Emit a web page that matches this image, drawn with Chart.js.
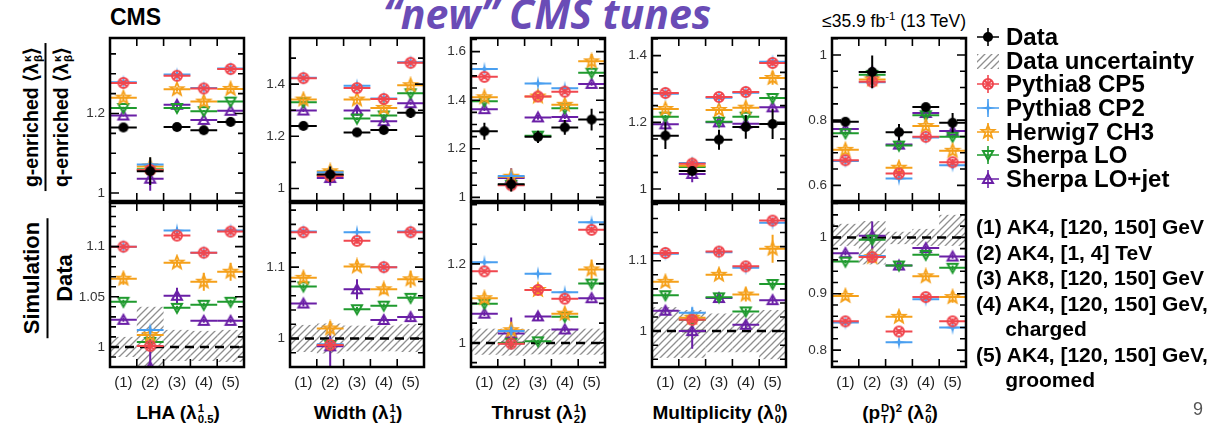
<!DOCTYPE html>
<html>
<head>
<meta charset="utf-8">
<script src="https://cdn.jsdelivr.net/npm/chart.js"></script>
<style>
  body { margin: 0; background: #fff; }
  #page { position: relative; width: 1230px; height: 438px; overflow: hidden;
          font-family: "Liberation Sans", Arial, sans-serif; color: #000; }
  canvas.panel { position: absolute; }
  .abs { position: absolute; white-space: nowrap; }
  .ss { display: inline-flex; flex-direction: column; font-size: 0.6em; line-height: 0.95;
        vertical-align: 0.62em; margin-left: 1px; text-align: left; }
  .ytitle { position: absolute; transform: translate(-50%, -50%) rotate(-90deg);
            font-weight: bold; font-size: 19.5px; text-align: center; white-space: nowrap; }
  .ytitle .num { border-bottom: 2.5px solid #000; padding: 0 4px 2px; }
  .ytitle .den { padding-top: 3px; }
  .xtitle { position: absolute; top: 402px; width: 200px; text-align: center;
            font-weight: bold; font-size: 19px; white-space: nowrap; }
  #legend { position: absolute; left: 975px; top: 25px; font-weight: bold; font-size: 24px; }
  #legend .row { display: flex; align-items: center; height: 23.7px; }
  #legend canvas { margin-right: 5px; }
  #cats { position: absolute; left: 976px; top: 214px; font-weight: bold; font-size: 21px;
          line-height: 25.5px; white-space: nowrap; }
</style>
</head>
<body>
<div id="page">
  <div class="abs" style="left:110px; top:4px; font-weight:bold; font-size:23px;">CMS</div>
  <div class="abs" style="left:383px; top:-15px; font: italic bold 41px 'Open Sans', sans-serif; color:#6a4cb6;">“new” CMS tunes</div>
  <div class="abs" style="right:264px; top:10px; font-size:17.5px;">≤35.9 fb<sup style="font-size:0.65em">-1</sup> (13 TeV)</div>

  <div class="ytitle" style="left:46px; top:117px;">
    <div class="num">g-enriched ⟨λ<span class="ss"><span>κ</span><span>β</span></span>⟩</div>
    <div class="den">q-enriched ⟨λ<span class="ss"><span>κ</span><span>β</span></span>⟩</div>
  </div>
  <div class="ytitle" style="left:48px; top:278px; font-size:22px;">
    <div class="num">Simulation</div>
    <div class="den">Data</div>
  </div>

  <div class="xtitle" style="left:78px;">LHA (λ<span class="ss"><span>1</span><span>0.5</span></span>)</div>
  <div class="xtitle" style="left:258px;">Width (λ<span class="ss"><span>1</span><span>1</span></span>)</div>
  <div class="xtitle" style="left:439px;">Thrust (λ<span class="ss"><span>1</span><span>2</span></span>)</div>
  <div class="xtitle" style="left:620px;">Multiplicity (λ<span class="ss"><span>0</span><span>0</span></span>)</div>
  <div class="xtitle" style="left:800px;">(p<span class="ss"><span>D</span><span>T</span></span>)<sup style="font-size:0.6em">2</sup> (λ<span class="ss"><span>2</span><span>0</span></span>)</div>

  <div id="legend"></div>
  <div id="cats"></div>
  <div class="abs" style="left:1193px; top:399px; font-size:18px; color:#555;">9</div>
</div>

<script>
const categories = ['(1)', '(2)', '(3)', '(4)', '(5)'];
const categoryNotes = [
  '(1) AK4, [120, 150] GeV',
  '(2) AK4, [1, 4] TeV',
  '(3) AK8, [120, 150] GeV',
  '(4) AK4, [120, 150] GeV,',
  '&nbsp;&nbsp;&nbsp;&nbsp;&nbsp;charged',
  '(5) AK4, [120, 150] GeV,',
  '&nbsp;&nbsp;&nbsp;&nbsp;&nbsp;groomed'
];
const seriesNames = ['Pythia8 CP5', 'Pythia8 CP2', 'Herwig7 CH3', 'Sherpa LO', 'Sherpa LO+jet'];

// LHA
const lhaData = [1.165, 1.055, 1.166, 1.158, 1.179];
const lhaDataErr = [0.007, 0.035, 0.006, 0.009, 0.011];
const lhaModels = [
  [1.277, 1.058, 1.295, 1.263, 1.312],
  [1.279, 1.072, 1.298, 1.264, 1.313],
  [1.240, 1.067, 1.261, 1.230, 1.262],
  [1.214, 1.060, 1.214, 1.206, 1.230],
  [1.195, 1.036, 1.222, 1.184, 1.207]
];
const lhaModelErr = [
  [0.004, 0.006, 0.004, 0.004, 0.005],
  [0.004, 0.006, 0.004, 0.004, 0.005],
  [0.008, 0.006, 0.005, 0.010, 0.010],
  [0.003, 0.005, 0.003, 0.003, 0.003],
  [0.003, 0.030, 0.009, 0.003, 0.003]
];
const lhaRatio = [
  [1.100, 1.001, 1.111, 1.094, 1.115],
  [1.100, 1.017, 1.116, 1.094, 1.116],
  [1.068, 1.012, 1.084, 1.065, 1.075],
  [1.045, 1.005, 1.039, 1.042, 1.045],
  [1.027, 0.980, 1.051, 1.026, 1.026]
];
const lhaRatioErr = [
  [0.002, 0.004, 0.003, 0.003, 0.003],
  [0.002, 0.004, 0.003, 0.002, 0.002],
  [0.006, 0.004, 0.003, 0.009, 0.009],
  [0.002, 0.003, 0.002, 0.002, 0.002],
  [0.002, 0.032, 0.008, 0.002, 0.002]
];
const lhaUnc = [[0.990, 1.010], [0.970, 1.040], [0.986, 1.017], [0.986, 1.016], [0.985, 1.017]];

// Width
const widthData = [1.240, 1.054, 1.215, 1.224, 1.290];
const widthDataErr = [0.012, 0.030, 0.012, 0.010, 0.020];
const widthModels = [
  [1.423, 1.048, 1.385, 1.343, 1.482],
  [1.425, 1.062, 1.394, 1.345, 1.484],
  [1.341, 1.066, 1.341, 1.309, 1.396],
  [1.331, 1.052, 1.268, 1.280, 1.365],
  [1.299, 1.040, 1.299, 1.258, 1.327]
];
const widthModelErr = [
  [0.006, 0.008, 0.006, 0.005, 0.007],
  [0.006, 0.008, 0.006, 0.005, 0.007],
  [0.010, 0.015, 0.008, 0.010, 0.015],
  [0.005, 0.006, 0.005, 0.005, 0.006],
  [0.006, 0.030, 0.020, 0.006, 0.006]
];
const widthRatio = [
  [1.149, 0.991, 1.137, 1.100, 1.149],
  [1.150, 0.992, 1.149, 1.100, 1.150],
  [1.085, 1.014, 1.101, 1.069, 1.083],
  [1.073, 0.991, 1.041, 1.046, 1.057],
  [1.049, 0.989, 1.069, 1.026, 1.030]
];
const widthRatioErr = [
  [0.003, 0.005, 0.004, 0.003, 0.003],
  [0.003, 0.005, 0.003, 0.003, 0.003],
  [0.006, 0.010, 0.005, 0.007, 0.012],
  [0.003, 0.005, 0.003, 0.003, 0.003],
  [0.004, 0.030, 0.014, 0.004, 0.004]
];
const widthUnc = [[0.981, 1.019], [0.979, 1.021], [0.982, 1.018], [0.982, 1.018], [0.981, 1.020]];

// Thrust
const thrustData = [1.272, 1.054, 1.249, 1.288, 1.320];
const thrustDataErr = [0.035, 0.030, 0.025, 0.030, 0.045];
const thrustModels = [
  [1.496, 1.050, 1.415, 1.435, 1.700],
  [1.528, 1.088, 1.469, 1.449, 1.720],
  [1.412, 1.085, 1.415, 1.381, 1.560],
  [1.396, 1.052, 1.254, 1.367, 1.513],
  [1.363, 1.080, 1.329, 1.331, 1.467]
];
const thrustModelErr = [
  [0.008, 0.010, 0.010, 0.010, 0.010],
  [0.008, 0.010, 0.010, 0.010, 0.010],
  [0.015, 0.020, 0.012, 0.015, 0.030],
  [0.006, 0.010, 0.008, 0.008, 0.008],
  [0.008, 0.040, 0.010, 0.008, 0.008]
];
const thrustRatio = [
  [1.181, 0.998, 1.134, 1.112, 1.286],
  [1.204, 1.030, 1.175, 1.128, 1.305],
  [1.113, 1.032, 1.134, 1.074, 1.186],
  [1.099, 1.000, 1.004, 1.066, 1.150],
  [1.074, 1.024, 1.067, 1.034, 1.113]
];
const thrustRatioErr = [
  [0.005, 0.010, 0.006, 0.006, 0.007],
  [0.005, 0.010, 0.006, 0.006, 0.007],
  [0.010, 0.020, 0.010, 0.010, 0.025],
  [0.005, 0.010, 0.004, 0.005, 0.006],
  [0.006, 0.040, 0.010, 0.006, 0.006]
];
const thrustUnc = [[0.970, 1.036], [0.968, 1.036], [0.971, 1.035], [0.971, 1.036], [0.970, 1.036]];

// Multiplicity
const multData = [1.160, 1.054, 1.148, 1.186, 1.195];
const multDataErr = [0.040, 0.012, 0.030, 0.035, 0.045];
const multModels = [
  [1.288, 1.076, 1.276, 1.291, 1.378],
  [1.286, 1.078, 1.274, 1.289, 1.382],
  [1.240, 1.070, 1.237, 1.244, 1.333],
  [1.217, 1.066, 1.202, 1.217, 1.273],
  [1.194, 1.045, 1.200, 1.196, 1.245]
];
const multModelErr = [
  [0.006, 0.010, 0.006, 0.006, 0.008],
  [0.006, 0.010, 0.006, 0.006, 0.008],
  [0.008, 0.010, 0.008, 0.012, 0.020],
  [0.005, 0.006, 0.005, 0.005, 0.006],
  [0.006, 0.025, 0.006, 0.006, 0.006]
];
const multRatio = [
  [1.111, 1.016, 1.113, 1.092, 1.157],
  [1.110, 1.026, 1.112, 1.090, 1.154],
  [1.070, 1.019, 1.080, 1.052, 1.117],
  [1.051, 1.016, 1.048, 1.028, 1.067],
  [1.029, 1.000, 1.047, 1.009, 1.044]
];
const multRatioErr = [
  [0.004, 0.005, 0.004, 0.004, 0.004],
  [0.004, 0.008, 0.004, 0.004, 0.004],
  [0.006, 0.006, 0.005, 0.010, 0.020],
  [0.004, 0.005, 0.004, 0.004, 0.004],
  [0.005, 0.025, 0.004, 0.005, 0.005]
];
const multUnc = [[0.962, 1.034], [0.962, 1.030], [0.970, 1.025], [0.970, 1.025], [0.960, 1.030]];

// (pT^D)^2
const ptdData = [0.795, 0.948, 0.763, 0.840, 0.792];
const ptdDataErr = [0.012, 0.050, 0.025, 0.008, 0.030];
const ptdModels = [
  [0.677, 0.918, 0.636, 0.749, 0.671],
  [0.675, 0.916, 0.621, 0.747, 0.662],
  [0.709, 0.925, 0.654, 0.782, 0.706],
  [0.760, 0.939, 0.722, 0.815, 0.749],
  [0.773, 0.948, 0.725, 0.822, 0.767]
];
const ptdModelErr = [
  [0.008, 0.010, 0.008, 0.008, 0.010],
  [0.008, 0.010, 0.008, 0.008, 0.010],
  [0.010, 0.010, 0.010, 0.010, 0.010],
  [0.006, 0.006, 0.006, 0.006, 0.006],
  [0.006, 0.010, 0.006, 0.006, 0.006]
];
const ptdRatio = [
  [0.851, 0.965, 0.833, 0.894, 0.851],
  [0.849, 0.967, 0.814, 0.890, 0.840],
  [0.896, 0.965, 0.859, 0.931, 0.894],
  [0.957, 0.996, 0.950, 0.969, 0.946],
  [0.972, 1.003, 0.950, 0.981, 0.966]
];
const ptdRatioErr = [
  [0.004, 0.006, 0.004, 0.004, 0.005],
  [0.004, 0.006, 0.005, 0.005, 0.005],
  [0.006, 0.008, 0.007, 0.006, 0.010],
  [0.003, 0.005, 0.003, 0.003, 0.004],
  [0.004, 0.025, 0.004, 0.004, 0.004]
];
const ptdUnc = [[0.985, 1.024], [0.952, 1.029], [0.988, 1.010], [0.985, 1.015], [0.985, 1.040]];

const binCenters = [0.5, 1.5, 2.5, 3.5, 4.5];
const binEdges = [1, 2, 3, 4];
const colors = ['#f0474f', '#4a9ff0', '#f5a01a', '#1f9a2e', '#6a1fa6'];
const markerKinds = ['cp5', 'cp2', 'h7', 'slo', 'sloj'];
const page = document.getElementById('page');

function starPath(g, n, R, r) {
  for (let k = 0; k < 2 * n; k++) {
    const a = -Math.PI / 2 + k * Math.PI / n;
    const rad = k % 2 ? r : R;
    if (k === 0) g.moveTo(rad * Math.cos(a), rad * Math.sin(a));
    else g.lineTo(rad * Math.cos(a), rad * Math.sin(a));
  }
  g.closePath();
}

function marker(kind, color) {
  const c = document.createElement('canvas');
  c.width = 18; c.height = 18;
  const g = c.getContext('2d');
  g.translate(9, 9);
  g.strokeStyle = color;
  g.fillStyle = color;
  g.lineWidth = 2;
  g.beginPath();
  if (kind === 'data') {
    g.arc(0, 0, 5, 0, Math.PI * 2); g.fill();
  } else if (kind === 'cp5') {
    g.arc(0, 0, 5, 0, Math.PI * 2);
    g.moveTo(-3.2, -3.2); g.lineTo(3.2, 3.2);
    g.moveTo(3.2, -3.2); g.lineTo(-3.2, 3.2);
    g.stroke();
  } else if (kind === 'cp2') {
    starPath(g, 4, 7.5, 1.7); g.fill();
  } else if (kind === 'h7') {
    g.lineWidth = 1.8;
    starPath(g, 5, 6.8, 2.9); g.stroke();
  } else if (kind === 'slo') {
    g.moveTo(-5, -4); g.lineTo(5, -4); g.lineTo(0, 5); g.closePath(); g.stroke();
  } else {
    g.moveTo(-5, 4); g.lineTo(5, 4); g.lineTo(0, -5); g.closePath(); g.stroke();
  }
  return c;
}

const pointImgs = markerKinds.map((k, i) => marker(k, colors[i]));
const dataImg = marker('data', '#000');

function hatchPattern(ctx) {
  const t = document.createElement('canvas');
  t.width = 7; t.height = 7;
  const g = t.getContext('2d');
  g.strokeStyle = '#8f8f8f';
  g.lineWidth = 1.3;
  g.beginPath();
  g.moveTo(0, 7); g.lineTo(7, 0);
  g.moveTo(-1, 1); g.lineTo(1, -1);
  g.moveTo(6, 8); g.lineTo(8, 6);
  g.stroke();
  return ctx.createPattern(t, 'repeat');
}

function makeTicks(min, max, step) {
  const out = [];
  for (let k = Math.ceil(min / step - 1e-9); k * step <= max + 1e-9; k++) {
    const v = +(k * step).toFixed(3);
    if (v > min + 1e-6 && v < max - 1e-6) out.push(v);
  }
  return out;
}

const isLabel = (labels, v) => labels.some(l => Math.abs(l - v) < 1e-6);

// error bars: full-bin horizontal line plus vertical uncertainty, drawn under each dataset's markers
const binBars = {
  id: 'binBars',
  beforeDatasetDraw(chart, args) {
    const ds = chart.data.datasets[args.index];
    if (!ds.errY) return;
    const {ctx, chartArea: a, scales: {x, y}} = chart;
    ctx.save();
    ctx.beginPath();
    ctx.rect(a.left, a.top, a.width, a.height);
    ctx.clip();
    ctx.strokeStyle = ds.borderColor;
    ctx.lineWidth = 2;
    ds.data.forEach((p, i) => {
      const px = x.getPixelForValue(p.x);
      const py = y.getPixelForValue(p.y);
      ctx.beginPath();
      ctx.moveTo(x.getPixelForValue(p.x - 0.5), py);
      ctx.lineTo(x.getPixelForValue(p.x + 0.5), py);
      ctx.moveTo(px, y.getPixelForValue(p.y - ds.errY[i]));
      ctx.lineTo(px, y.getPixelForValue(p.y + ds.errY[i]));
      ctx.stroke();
    });
    ctx.restore();
  }
};

function noOverflow(s) {
  s.paddingTop = 0; s.paddingBottom = 0; s.paddingLeft = 0; s.paddingRight = 0;
}

function makePanel(left, isRatio, range, step, labels, rows, rowErr, dataVals, dataErr, unc) {
  const cv = document.createElement('canvas');
  cv.className = 'panel';
  cv.width = 181;
  cv.height = isRatio ? 205 : 177;
  cv.style.left = (left - 40) + 'px';
  cv.style.top = (isRatio ? 196 : 31) + 'px';
  page.appendChild(cv);

  const yTicks = makeTicks(range[0], range[1], step);
  const datasets = [];
  if (dataVals) {
    datasets.push({
      data: dataVals.map((v, i) => ({x: binCenters[i], y: v})),
      errY: dataErr, borderColor: '#000', backgroundColor: '#000', pointStyle: dataImg
    });
  }
  rows.forEach((row, s) => datasets.push({
    data: row.map((v, i) => ({x: binCenters[i], y: v})),
    errY: rowErr[s], borderColor: colors[s], backgroundColor: colors[s], pointStyle: pointImgs[s]
  }));
  if (isRatio) {
    datasets.push({
      type: 'line', showLine: true, data: [{x: 0, y: 1}, {x: 5, y: 1}],
      borderColor: '#000', borderWidth: 2.5, borderDash: [9, 6], pointRadius: 0
    });
  }

  const band = {
    id: 'band',
    beforeDatasetsDraw(chart) {
      if (!unc) return;
      const {ctx, chartArea: a, scales: {x, y}} = chart;
      ctx.save();
      ctx.beginPath();
      ctx.rect(a.left, a.top, a.width, a.height);
      ctx.clip();
      ctx.fillStyle = hatchPattern(ctx);
      unc.forEach((u, i) => {
        const x0 = x.getPixelForValue(binCenters[i] - 0.5);
        const x1 = x.getPixelForValue(binCenters[i] + 0.5);
        const y0 = y.getPixelForValue(u[1]);
        const y1 = y.getPixelForValue(u[0]);
        ctx.fillRect(x0, y0, x1 - x0, y1 - y0);
      });
      ctx.restore();
    }
  };

  const frame = {
    id: 'frame',
    afterDraw(chart) {
      const {ctx, chartArea: a, scales: {x, y}} = chart;
      ctx.save();
      ctx.strokeStyle = '#000';
      ctx.lineWidth = 1.6;
      ctx.beginPath();
      yTicks.forEach(v => {
        const py = y.getPixelForValue(v);
        const len = isLabel(labels, v) ? 9 : 6;
        ctx.moveTo(a.left, py); ctx.lineTo(a.left + len, py);
        ctx.moveTo(a.right, py); ctx.lineTo(a.right - len, py);
      });
      binEdges.forEach(b => {
        const px = x.getPixelForValue(b);
        ctx.moveTo(px, a.top); ctx.lineTo(px, a.top + 8);
        ctx.moveTo(px, a.bottom); ctx.lineTo(px, a.bottom - 8);
      });
      ctx.stroke();
      ctx.lineWidth = 2.5;
      ctx.strokeRect(a.left, a.top, a.width, a.height);
      ctx.restore();
    }
  };

  new Chart(cv, {
    type: 'scatter',
    data: {datasets},
    options: {
      responsive: false,
      animation: false,
      devicePixelRatio: 1,
      events: [],
      layout: {padding: {left: 0, top: 6, right: 6, bottom: isRatio ? 0 : 6}},
      plugins: {legend: {display: false}, tooltip: {enabled: false}},
      elements: {point: {radius: 6, hoverRadius: 6}},
      scales: {
        x: {
          type: 'linear', min: 0, max: 5, display: isRatio,
          afterBuildTicks: s => { s.ticks = binCenters.map(v => ({value: v})); },
          afterFit: s => { s.height = isRatio ? 34 : 0; noOverflow(s); },
          grid: {display: false, drawTicks: false}, border: {display: false},
          ticks: {
            callback: (v, i) => categories[i], autoSkip: false, maxRotation: 0, padding: 7,
            color: '#222', font: {size: 15, family: 'Liberation Sans'}
          }
        },
        y: {
          type: 'linear', min: range[0], max: range[1],
          afterBuildTicks: s => { s.ticks = yTicks.map(v => ({value: v})); },
          afterFit: s => { s.width = 40; noOverflow(s); },
          grid: {display: false, drawTicks: false}, border: {display: false},
          ticks: {
            callback: v => isLabel(labels, v) ? String(+v.toFixed(2)) : '',
            autoSkip: false, padding: 5, color: '#333',
            font: {size: 13.5, family: 'Liberation Sans'}
          }
        }
      }
    },
    plugins: [band, binBars, frame]
  });
}

makePanel(110, false, [0.98, 1.39], 0.05, [1, 1.2], lhaModels, lhaModelErr, lhaData, lhaDataErr, null);
makePanel(110, true, [0.98, 1.1435], 0.01, [1, 1.05, 1.1], lhaRatio, lhaRatioErr, null, null, lhaUnc);
makePanel(290, false, [0.952, 1.577], 0.1, [1, 1.2, 1.4], widthModels, widthModelErr, widthData, widthDataErr, null);
makePanel(290, true, [0.96, 1.19], 0.02, [1, 1.1], widthRatio, widthRatioErr, null, null, widthUnc);
makePanel(471, false, [0.985, 1.656], 0.05, [1, 1.2, 1.4, 1.6], thrustModels, thrustModelErr, thrustData, thrustDataErr, null);
makePanel(471, true, [0.939, 1.354], 0.05, [1, 1.2], thrustRatio, thrustRatioErr, null, null, thrustUnc);
makePanel(652, false, [0.964, 1.453], 0.05, [1, 1.2, 1.4], multModels, multModelErr, multData, multDataErr, null);
makePanel(652, true, [0.949, 1.182], 0.02, [1, 1.1], multRatio, multRatioErr, null, null, multUnc);
makePanel(832, false, [0.552, 1.052], 0.05, [0.6, 0.8, 1], ptdModels, ptdModelErr, ptdData, ptdDataErr, null);
makePanel(832, true, [0.77, 1.061], 0.02, [0.8, 0.9, 1], ptdRatio, ptdRatioErr, null, null, ptdUnc);

// legend
const legend = document.getElementById('legend');
function legendRow(label, draw) {
  const row = document.createElement('div');
  row.className = 'row';
  const c = document.createElement('canvas');
  c.width = 26; c.height = 22;
  draw(c.getContext('2d'));
  row.appendChild(c);
  row.appendChild(document.createTextNode(label));
  legend.appendChild(row);
}
function barsAndMarker(g, color, img) {
  g.strokeStyle = color;
  g.lineWidth = 1.6;
  g.beginPath();
  g.moveTo(2, 11); g.lineTo(24, 11);
  g.moveTo(13, 2); g.lineTo(13, 20);
  g.stroke();
  g.drawImage(img, 13 - img.width / 2, 11 - img.height / 2);
}
legendRow('Data', g => barsAndMarker(g, '#000', dataImg));
legendRow('Data uncertainty', g => { g.fillStyle = hatchPattern(g); g.fillRect(2, 4, 22, 15); });
seriesNames.forEach((name, s) => legendRow(name, g => barsAndMarker(g, colors[s], pointImgs[s])));

document.getElementById('cats').innerHTML = categoryNotes.join('<br>');
</script>
</body>
</html>
